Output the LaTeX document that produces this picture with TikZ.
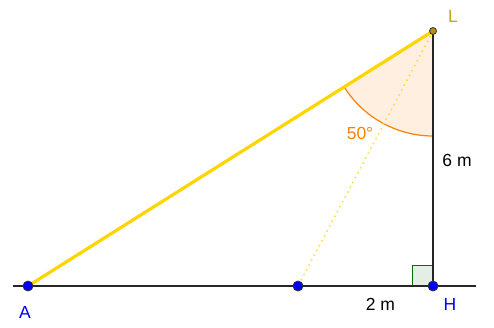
\documentclass[tikz,border=0pt]{standalone}
\usepackage{fontspec}
\setmainfont{Liberation Sans}
\usetikzlibrary{calc}
\definecolor{gold}{RGB}{255,213,0}
\definecolor{lgold}{RGB}{255,220,60}
\definecolor{arcor}{RGB}{255,128,0}
\definecolor{peach}{RGB}{255,239,224}
\definecolor{ptblue}{RGB}{0,0,255}
\definecolor{ptL}{RGB}{190,140,20}
\definecolor{lblL}{RGB}{205,160,30}
\definecolor{rgreen}{RGB}{0,110,0}
\definecolor{rfill}{RGB}{228,238,228}
\begin{document}
\begin{tikzpicture}[x=1pt,y=-1pt,
  lbl/.style={font=\fontsize{17.5}{20}\selectfont, inner sep=0pt},
  bpt/.style={circle, fill=ptblue, draw=black!80, line width=0.8pt, minimum size=10pt, inner sep=0pt},
  lpt/.style={circle, fill=ptL, draw=black!80, line width=0.8pt, minimum size=7pt, inner sep=0pt}]
\useasboundingbox (0,0) rectangle (494,327);
\coordinate (A0) at (28,286);
\coordinate (H0) at (433,286);
\coordinate (L0) at (433,31);
\coordinate (M0) at (298,286);
\coordinate (gl) at (13,286);
\coordinate (gr) at (476,286);
\coordinate (S0) at (433,136);
% angle sector
\fill[peach] (L0) -- (S0) arc[start angle=90, end angle={90+atan(405/255)}, radius=105] -- cycle;
\draw[arcor, line width=1.2pt] (S0) arc[start angle=90, end angle={90+atan(405/255)}, radius=105];
% right angle
\filldraw[fill=rfill, draw=rgreen, line width=1pt] (433,265) rectangle (412,286);
% lines
\draw[black!85, line width=1.6pt] (gl) -- (gr);
\draw[black!85, line width=1.8pt] (L0) -- (H0);
\draw[lgold, line width=1.5pt, dash pattern=on 1.5pt off 4pt] (L0) -- (M0);
\draw[gold, line width=3.2pt] (A0) -- (L0);
% points
\node[bpt] (A) at (A0) {};
\node[bpt] (H) at (H0) {};
\node[bpt] (M) at (M0) {};
\node[lpt] (L) at (L0) {};
% labels
\node[lbl, text=lblL] (tL) at (453,16) {L};
\node[lbl, text=arcor] (t50) at (360,133) {50°};
\node[lbl] (t6) at (457,160) {6 m};
\node[lbl] (t2) at (380.5,304) {2 m};
\node[lbl, text=ptblue] (tA) at (25,312) {A};
\node[lbl, text=ptblue] (tH) at (450,304) {H};
\end{tikzpicture}
\end{document}
